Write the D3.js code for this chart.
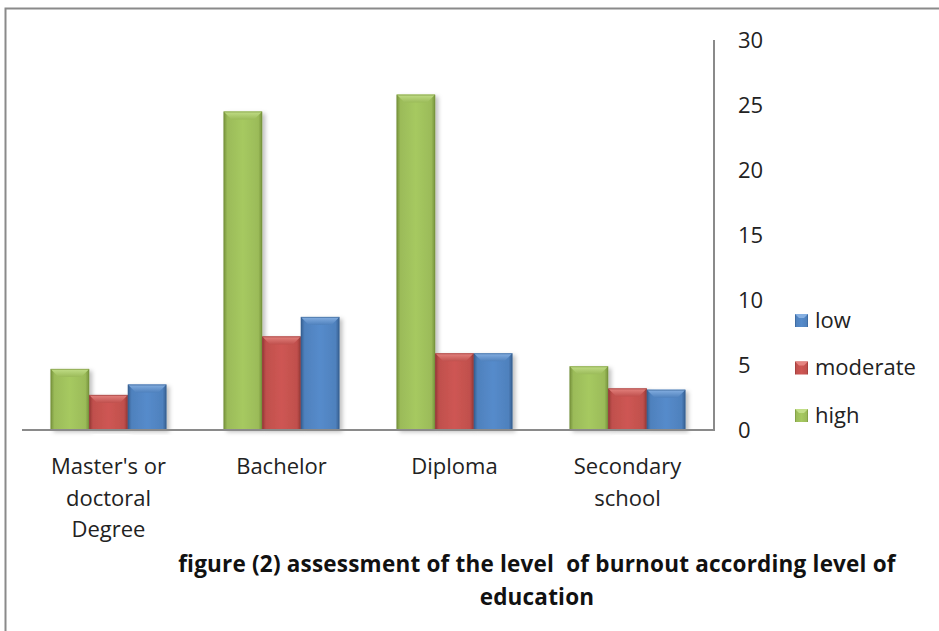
<!DOCTYPE html>
<html><head><meta charset="utf-8">
<script src="https://cdn.jsdelivr.net/npm/d3@7"></script>
<style>html,body{margin:0;padding:0;background:#fff;}</style>
</head><body>
<script>
const categories = [["Master's or","doctoral","Degree"],["Bachelor"],["Diploma"],["Secondary","school"]];
const categoryKeys = ["Master's or doctoral Degree","Bachelor","Diploma","Secondary school"];
const seriesNames = ["high","moderate","low"];
const high = [4.7, 24.5, 25.8, 4.9];
const moderate = [2.7, 7.2, 5.9, 3.2];
const low = [3.5, 8.7, 5.9, 3.1];
const yTicks = [0,5,10,15,20,25,30];
const legendOrder = ["low","moderate","high"];
const title = ["figure (2) assessment of the level  of burnout according level of","education"];

(function(){
const colors = {high:"#9BBB59", moderate:"#C0504D", low:"#4F81BD"};
const dark = {high:"#76923C", moderate:"#953735", low:"#365F91"};
const light = {high:"#C2DE88", moderate:"#E58480", low:"#86B0E2"};
const valuesBy = {high, moderate, low};

const W=939,H=631;
const svg=d3.select("body").append("svg").attr("width",W).attr("height",H);
const defs=svg.append("defs");
seriesNames.forEach(s=>{
  const g=defs.append("linearGradient").attr("id","g-"+s).attr("x1","0").attr("x2","1").attr("y1","0").attr("y2","0");
  g.append("stop").attr("offset","0").attr("stop-color",dark[s]);
  g.append("stop").attr("offset","0.1").attr("stop-color",colors[s]);
  g.append("stop").attr("offset","0.5").attr("stop-color",d3.color(colors[s]).brighter(0.2));
  g.append("stop").attr("offset","0.9").attr("stop-color",colors[s]);
  g.append("stop").attr("offset","1").attr("stop-color",dark[s]);
  const t=defs.append("linearGradient").attr("id","t-"+s).attr("x1","0").attr("x2","0").attr("y1","0").attr("y2","1");
  t.append("stop").attr("offset","0").attr("stop-color",light[s]);
  t.append("stop").attr("offset","1").attr("stop-color",colors[s]);
});
const f=defs.append("filter").attr("id","sh").attr("x","-20%").attr("y","-5%").attr("width","150%").attr("height","115%");
f.append("feDropShadow").attr("dx",3).attr("dy",2).attr("stdDeviation",2).attr("flood-color","#000").attr("flood-opacity",0.25);

svg.append("path").attr("d",`M5.5,${H} V8.5 H${W}`).attr("fill","none").attr("stroke","#8a8a8a").attr("stroke-width",2);

const pL=22,pR=714,pT=40,pB=430;
const x0=d3.scaleBand().domain(categoryKeys).range([pL,pR]).paddingInner(0).paddingOuter(0);
const x1=d3.scaleBand().domain(seriesNames).range([0,x0.bandwidth()]).paddingOuter(0.74).paddingInner(0);
const y=d3.scaleLinear().domain([0,30]).range([pB,pT]);

const bars=[];
categoryKeys.forEach((c,i)=>seriesNames.forEach(s=>bars.push({c,s,v:valuesBy[s][i]})));
const bg=svg.append("g");
const bw=x1.bandwidth();
bars.forEach(b=>{
  const bx=x0(b.c)+x1(b.s), by=y(b.v), bh=y(0)-y(b.v);
  const g=bg.append("g");
  g.append("rect").attr("x",bx).attr("y",by).attr("width",bw).attr("height",bh).attr("fill","url(#g-"+b.s+")").attr("filter","url(#sh)");
  const bev=Math.min(8,bh/2);
  g.append("path").attr("d",`M${bx},${by} H${bx+bw} L${bx+bw-bev},${by+bev} H${bx+bev} Z`).attr("fill","url(#t-"+b.s+")");
  g.append("rect").attr("x",bx+0.5).attr("y",by+0.5).attr("width",bw-1).attr("height",bh-1).attr("fill","none").attr("stroke",dark[b.s]).attr("stroke-opacity",0.6);
});

svg.append("line").attr("x1",pL).attr("x2",pR).attr("y1",pB).attr("y2",pB).attr("stroke","#8a8a8a").attr("stroke-width",2);
svg.append("line").attr("x1",pR).attr("x2",pR).attr("y1",pT).attr("y2",pB+1).attr("stroke","#8a8a8a").attr("stroke-width",2);
const font="'Open Sans',sans-serif";
const yAxis=d3.axisRight(y).tickValues(yTicks).tickSize(0).tickPadding(0);
const ya=svg.append("g").attr("transform",`translate(738,0)`).call(yAxis);
ya.select(".domain").remove();
ya.selectAll("text").attr("font-family",font).attr("font-size",22).attr("fill","#222").attr("x",0).attr("dy","0.35em");

categoryKeys.forEach((c,i)=>{
  const cx=x0(c)+x0.bandwidth()/2;
  const t=svg.append("text").attr("x",cx).attr("y",474).attr("text-anchor","middle")
    .attr("font-family",font).attr("font-size",22).attr("fill","#222");
  categories[i].forEach((ln,j)=>t.append("tspan").attr("x",cx).attr("y",474+j*31.5).text(ln));
});

legendOrder.forEach((s,i)=>{
  const ly=320+i*47.5;
  svg.append("rect").attr("x",795).attr("y",ly-6).attr("width",13).attr("height",13).attr("fill","url(#g-"+s+")");
  svg.append("path").attr("d",`M795,${ly-6} h13 l-4,4 h-5 z`).attr("fill",light[s]);
  svg.append("text").attr("x",815).attr("y",ly).attr("dy","0.35em").attr("font-family",font).attr("font-size",22).attr("fill","#222").text(s);
});

title.forEach((ln,j)=>{
  svg.append("text").attr("x",537).attr("y",572+j*33).attr("text-anchor","middle").style("white-space","pre")
    .attr("font-family",font).attr("font-weight","bold").attr("font-size",22.5).attr("letter-spacing",0.2).attr("fill","#111").text(ln);
});
})();
</script>
</body></html>
